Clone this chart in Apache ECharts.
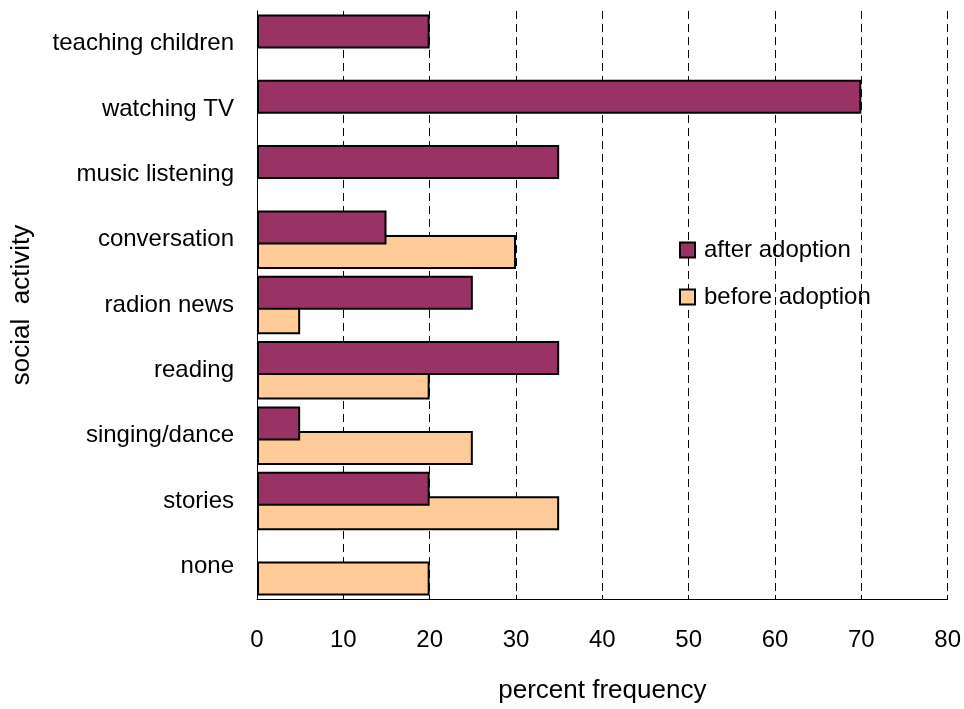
<!DOCTYPE html>
<html>
<head>
<meta charset="utf-8">
<script src="https://cdn.jsdelivr.net/npm/echarts@6/dist/echarts.min.js"></script>
<style>
  html, body { margin: 0; padding: 0; background: #fff; }
  #chart { width: 964px; height: 709px; }
</style>
</head>
<body>
<div id="chart"></div>
<script>
// Activities, listed top to bottom
const categories = ['teaching children', 'watching TV', 'music listening', 'conversation',
  'radion news', 'reading', 'singing/dance', 'stories', 'none'];
// Percent frequency per activity (null = not reported)
const afterAdoption = [20, 70, 35, 15, 25, 35, 5, 20, null];
const beforeAdoption = [null, null, null, 30, 5, 20, 25, 35, 20];
const xTicks = [0, 10, 20, 30, 40, 50, 60, 70, 80];

const FONT = '"Liberation Sans", Arial, sans-serif';
const chart = echarts.init(document.getElementById('chart'), null, { renderer: 'canvas' });

chart.setOption({
  animation: false,
  backgroundColor: '#ffffff',
  textStyle: { fontFamily: FONT },
  grid: { left: 257, right: 16, top: 11, bottom: 108, containLabel: false },
  legend: {
    orient: 'vertical',
    left: 674,
    top: 233,
    itemWidth: 15,
    itemHeight: 15,
    itemGap: 23,
    icon: 'rect',
    data: ['after adoption', 'before adoption'],
    itemStyle: { borderColor: '#000', borderWidth: 2 },
    textStyle: { fontSize: 24, color: '#000', fontFamily: FONT, padding: [0, 0, 0, 4] }
  },
  xAxis: {
    type: 'value',
    min: xTicks[0],
    max: xTicks[xTicks.length - 1],
    interval: 10,
    name: 'percent frequency',
    nameLocation: 'middle',
    nameGap: 79,
    nameTextStyle: { fontSize: 26, color: '#000', fontFamily: FONT },
    axisLine: { show: true, lineStyle: { color: '#000', width: 1 } },
    axisTick: { show: true, inside: true, length: 4, lineStyle: { color: '#000' } },
    axisLabel: { fontSize: 24, color: '#000', margin: 29, fontFamily: FONT },
    splitLine: { show: true, lineStyle: { color: '#000', type: [8, 5], width: 1 } }
  },
  yAxis: {
    type: 'category',
    data: categories,
    inverse: true,
    name: 'social  activity',
    nameLocation: 'middle',
    nameGap: 222,
    nameRotate: 90,
    nameTextStyle: { fontSize: 26, color: '#000', fontFamily: FONT },
    axisLine: { show: true, onZero: false, lineStyle: { color: '#000', width: 1 } },
    axisTick: { show: false },
    axisLabel: { fontSize: 24, color: '#000', margin: 23, fontFamily: FONT, padding: [4, 0, 0, 0] }
  },
  series: [
    {
      name: 'after adoption',
      type: 'bar',
      data: afterAdoption,
      barWidth: 34,
      barGap: '-28%',
      barCategoryGap: '13%',
      z: 3,
      itemStyle: { color: '#993366', borderColor: '#000', borderWidth: 2 }
    },
    {
      name: 'before adoption',
      type: 'bar',
      data: beforeAdoption,
      barWidth: 34,
      barGap: '-28%',
      z: 2,
      itemStyle: { color: '#FFCC99', borderColor: '#000', borderWidth: 2 }
    }
  ]
});
</script>
</body>
</html>
